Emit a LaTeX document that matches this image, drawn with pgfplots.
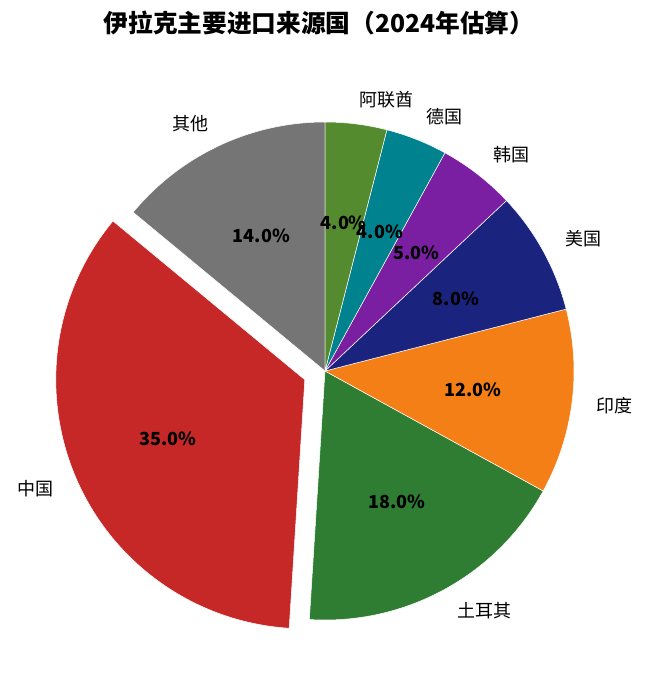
\documentclass[border=0pt]{standalone}
\usepackage{pgfplots}
\pgfplotsset{compat=1.18}
\usepackage{pgfplotstable}
\usepackage{fontspec}
\setmainfont{Noto Sans CJK SC}

\definecolor{cqita}{HTML}{757575}
\definecolor{czhongguo}{HTML}{C62828}
\definecolor{ctuerqi}{HTML}{2E7D32}
\definecolor{cyindu}{HTML}{F57F17}
\definecolor{cmeiguo}{HTML}{1A237E}
\definecolor{changuo}{HTML}{7B1FA2}
\definecolor{cdeguo}{HTML}{00838F}
\definecolor{calianqiu}{HTML}{558B2F}

% share in percent, explode offset in pt, colour
\pgfplotstableread{
label   value explode colour
其他     14    0       cqita
中国     35    22      czhongguo
土耳其   18    0       ctuerqi
印度     12    0       cyindu
美国     8     0       cmeiguo
韩国     5     0       changuo
德国     4     0       cdeguo
阿联酋   4     0       calianqiu
}\piedata

\def\cx{325}\def\cy{371}\def\rad{249}

\begin{document}
\begin{tikzpicture}
\begin{axis}[
  width=648pt, height=697pt, scale only axis,
  xmin=0, xmax=648, ymin=0, ymax=697, y dir=reverse,
  hide axis, clip=false,
]
\pgfplotsextra{
  \path (rel axis cs:0,0) rectangle (rel axis cs:1,1);
  \node[font=\fontsize{24.7}{28}\selectfont\bfseries] at (axis cs:319,23)
    {伊拉克主要进口来源国（2024年估算）};
  \pgfplotstablegetrowsof{\piedata}
  \pgfmathtruncatemacro\lastrow{\pgfplotsretval-1}
  % wedges
  \gdef\cumul{0}
  \foreach \i in {0,...,\lastrow}{
    \pgfplotstablegetelem{\i}{value}\of\piedata \let\v\pgfplotsretval
    \pgfplotstablegetelem{\i}{explode}\of\piedata \let\ex\pgfplotsretval
    \pgfplotstablegetelem{\i}{colour}\of\piedata \let\col\pgfplotsretval
    \pgfmathsetmacro\sa{90+3.6*\cumul}
    \pgfmathsetmacro\ea{\sa+3.6*\v}
    \pgfmathsetmacro\mid{(\sa+\ea)/2}
    \fill[\col, draw=white, line width=0.5pt] (axis cs:\cx,\cy) ++(\mid:\ex pt)
      -- ++(\sa:\rad pt) arc[start angle=\sa, end angle=\ea, radius=\rad pt] -- cycle;
    \pgfmathsetmacro\newcumul{\cumul+\v}
    \xdef\cumul{\newcumul}
  }
  % labels
  \gdef\cumul{0}
  \foreach \i in {0,...,\lastrow}{
    \pgfplotstablegetelem{\i}{label}\of\piedata \let\lab\pgfplotsretval
    \pgfplotstablegetelem{\i}{value}\of\piedata \let\v\pgfplotsretval
    \pgfplotstablegetelem{\i}{explode}\of\piedata \let\ex\pgfplotsretval
    \pgfmathsetmacro\mid{90+3.6*\cumul+1.8*\v}
    \pgfmathparse{cos(\mid)}
    \ifdim\pgfmathresult pt>0pt \def\anc{west}\else\def\anc{east}\fi
    \path (axis cs:\cx,\cy) ++(\mid:\ex pt) ++(\mid:1.1*\rad pt)
      node[anchor=\anc, inner sep=0pt, font=\fontsize{18}{20}\selectfont] {\lab};
    \path (axis cs:\cx,\cy) ++(\mid:\ex pt) ++(\mid:0.6*\rad pt)
      node[inner sep=0pt, font=\fontsize{18}{20}\selectfont\bfseries]
      {\pgfmathprintnumber[fixed, fixed zerofill, precision=1, assume math mode=true]{\v}\%};
    \pgfmathsetmacro\newcumul{\cumul+\v}
    \xdef\cumul{\newcumul}
  }
}
\end{axis}
\end{tikzpicture}
\end{document}
